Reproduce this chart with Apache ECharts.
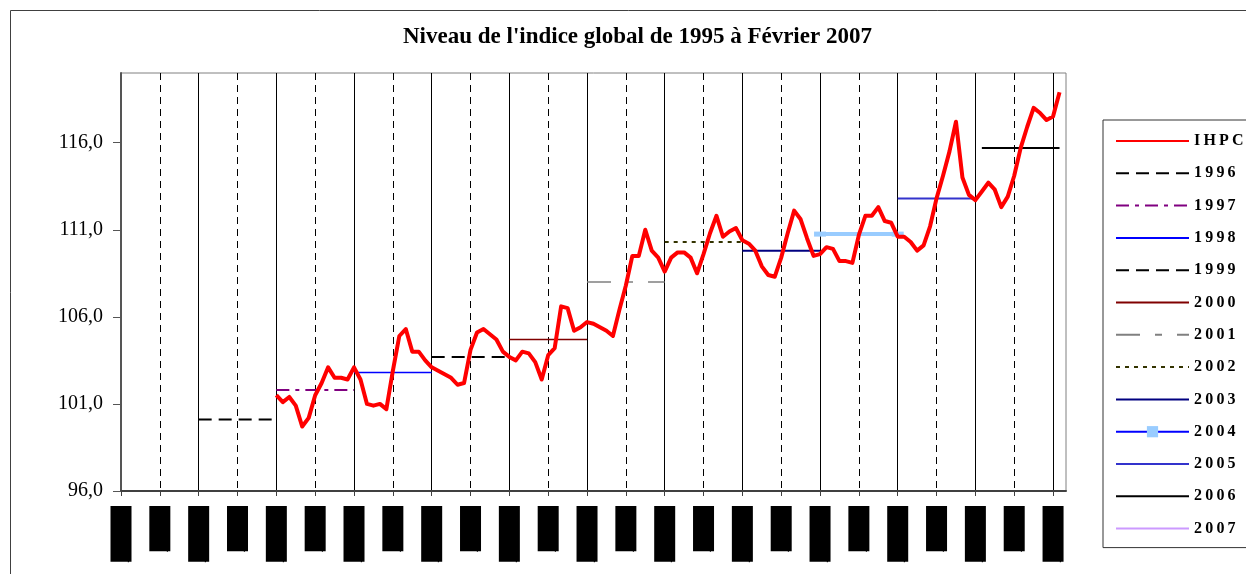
<!DOCTYPE html>
<html>
<head>
<meta charset="utf-8">
<script src="https://cdn.jsdelivr.net/npm/echarts@6/dist/echarts.min.js"></script>
<style>
  html, body { margin: 0; padding: 0; background: #fff; }
  #chart { width: 1246px; height: 574px; }
</style>
</head>
<body>
<div id="chart"></div>
<script>
// tick labels every 6 months, from janv-95
var tickLabels = ['janv-95', 'juil-95', 'janv-96', 'juil-96', 'janv-97', 'juil-97', 'janv-98', 'juil-98',
  'janv-99', 'juil-99', 'janv-00', 'juil-00', 'janv-01', 'juil-01', 'janv-02', 'juil-02', 'janv-03',
  'juil-03', 'janv-04', 'juil-04', 'janv-05', 'juil-05', 'janv-06', 'juil-06', 'janv-07'];
var yTicks = [96, 101, 106, 111, 116];

// monthly IHPC, janv-97 .. fevr-07 (month 24 counted from janv-95)
var ihpcStart = 24;
var ihpc = [
  101.5, 101.1, 101.4, 100.9, 99.7, 100.2, 101.5, 102.2, 103.1, 102.5, 102.5, 102.4,
  103.1, 102.4, 101.0, 100.9, 101.0, 100.7, 102.9, 104.9, 105.3, 104.0, 104.0, 103.5,
  103.1, 102.9, 102.7, 102.5, 102.1, 102.2, 104.1, 105.1, 105.3, 105.0, 104.7, 104.0,
  103.7, 103.5, 104.0, 103.9, 103.4, 102.4, 103.8, 104.2, 106.6, 106.5, 105.2, 105.4,
  105.7, 105.6, 105.4, 105.2, 104.9, 106.4, 107.8, 109.5, 109.5, 111.0, 109.8, 109.4,
  108.6, 109.4, 109.7, 109.7, 109.4, 108.5, 109.6, 110.8, 111.8, 110.6, 110.9, 111.1,
  110.4, 110.2, 109.8, 108.9, 108.4, 108.3, 109.4, 110.8, 112.1, 111.6, 110.5, 109.5,
  109.6, 110.0, 109.9, 109.2, 109.2, 109.1, 110.7, 111.8, 111.8, 112.3, 111.5, 111.4,
  110.6, 110.6, 110.3, 109.8, 110.1, 111.2, 112.8, 114.1, 115.5, 117.2, 114.0, 113.0,
  112.7, 113.2, 113.7, 113.3, 112.3, 112.9, 114.1, 115.7, 116.9, 118.0, 117.7, 117.3,
  117.5, 118.9
];

// yearly levels and the months they cover
var avgNames = ['1996', '1997', '1998', '1999', '2000', '2001', '2002', '2003', '2004', '2005', '2006', '2007'];
var avgValues = [100.1, 101.8, 102.8, 103.7, 104.7, 108.0, 110.3, 109.8, 110.75, 112.8, 115.7, null];
var avgFrom = [12, 24, 36, 48, 60, 72, 84, 96, 108, 120, 133, 145];
var avgTo = [24, 36, 48, 60, 72, 84, 96, 108, 120, 132, 145, 146];

var avgStyles = [
  { color: '#000000', type: [13, 7], width: 2 },
  { color: '#800080', type: [13, 6, 4, 6], width: 2 },
  { color: '#0000ff', type: 'solid', width: 1.5 },
  { color: '#000000', type: [13, 7], width: 2 },
  { color: '#800000', type: 'solid', width: 1.5 },
  { color: '#808080', type: [24, 15, 7, 15], width: 1.5 },
  { color: '#333300', type: [4, 5], width: 2 },
  { color: '#000080', type: 'solid', width: 2 },
  { color: '#99ccff', type: 'solid', width: 4 },
  { color: '#3333cc', type: 'solid', width: 2 },
  { color: '#000000', type: 'solid', width: 2 },
  { color: '#cc99ff', type: 'solid', width: 2 }
];

var chart = echarts.init(document.getElementById('chart'));

var series = [{
  name: 'IHPC',
  type: 'line',
  xAxisIndex: 0,
  symbol: 'none',
  color: '#ff0000',
  lineStyle: { color: '#ff0000', width: 4, join: 'round' },
  z: 5,
  data: ihpc.map(function (v, i) { return [ihpcStart + i, v]; })
}];

avgNames.forEach(function (name, i) {
  var st = avgStyles[i];
  var is2004 = name === '2004';
  series.push({
    name: name,
    type: 'line',
    xAxisIndex: 0,
    color: st.color,
    symbol: is2004 ? 'rect' : 'none',
    symbolSize: [12, 5],
    showSymbol: is2004,
    itemStyle: { color: st.color },
    lineStyle: st,
    z: 4,
    data: [[avgFrom[i], avgValues[i]], [avgTo[i], avgValues[i]]]
  });
});

var legendData = ['IHPC'].concat(avgNames.map(function (n) {
  if (n === '2004') {
    return { name: n, lineStyle: { color: '#0000ff', width: 2 }, itemStyle: { opacity: 1, color: '#99ccff' } };
  }
  return n;
}));

var tickValues = tickLabels.map(function (t, i) { return i * 6; });

var option = {
  animation: false,
  backgroundColor: '#ffffff',
  title: {
    text: "Niveau de l'indice global de 1995 à Février 2007",
    left: 398,
    top: 21,
    textStyle: { fontFamily: 'Liberation Serif', fontWeight: 'bold', fontSize: 23, color: '#000' }
  },
  graphic: [{
    type: 'rect',
    shape: { x: 10.5, y: 10.5, width: 1300, height: 600 },
    style: { fill: 'none', stroke: '#404040', lineWidth: 1 },
    silent: true
  }],
  legend: {
    orient: 'vertical',
    left: 1103,
    top: 120,
    padding: [13, 60, 11, 12],
    itemWidth: 73,
    itemHeight: 14,
    itemGap: 16.3,
    borderColor: '#333',
    borderWidth: 1,
    backgroundColor: '#fff',
    data: legendData,
    itemStyle: { opacity: 0 },
    formatter: function (name) { return name.split('').join('\u2009'); },
    textStyle: { fontFamily: 'Liberation Serif', fontWeight: 'bold', fontSize: 16, color: '#000', lineHeight: 14 }
  },
  grid: { left: 121, right: 180, top: 73, bottom: 83, show: true, borderColor: '#808080', borderWidth: 1 },
  xAxis: [{
    type: 'value',
    min: 0,
    max: 146,
    interval: 6,
    axisLine: { show: true, lineStyle: { color: '#404040', width: 2 } },
    axisTick: { show: true, customValues: tickValues, length: 5, lineStyle: { color: '#404040' } },
    axisLabel: {
      customValues: tickValues,
      rotate: 90,
      margin: 15,
      fontFamily: 'Liberation Sans',
      fontSize: 17,
      lineHeight: 21,
      color: '#000',
      backgroundColor: '#000',
      formatter: function (v) { return tickLabels[Math.round(v / 6)] || ''; }
    },
    splitLine: { show: true, showMinLine: false, showMaxLine: false, lineStyle: { color: '#000', type: [7, 5], width: 1 } }
  }, {
    type: 'value',
    position: 'bottom',
    min: 0,
    max: 146,
    interval: 12,
    axisLine: { show: false },
    axisTick: { show: false },
    axisLabel: { show: false },
    splitLine: { show: true, showMinLine: false, showMaxLine: false, lineStyle: { color: '#000', width: 1 } }
  }],
  yAxis: {
    type: 'value',
    min: 96,
    max: 120,
    interval: 5,
    axisLine: { show: true, lineStyle: { color: '#555', width: 2 } },
    axisTick: { show: true, customValues: yTicks, length: 8, lineStyle: { color: '#555' } },
    axisLabel: {
      customValues: yTicks,
      margin: 18,
      fontFamily: 'Liberation Serif',
      fontSize: 20,
      color: '#000',
      formatter: function (v) { return v.toFixed(1).replace('.', ','); }
    },
    splitLine: { show: false }
  },
  series: series
};

chart.setOption(option);
window.onresize = function () { chart.resize(); };
</script>
</body>
</html>
